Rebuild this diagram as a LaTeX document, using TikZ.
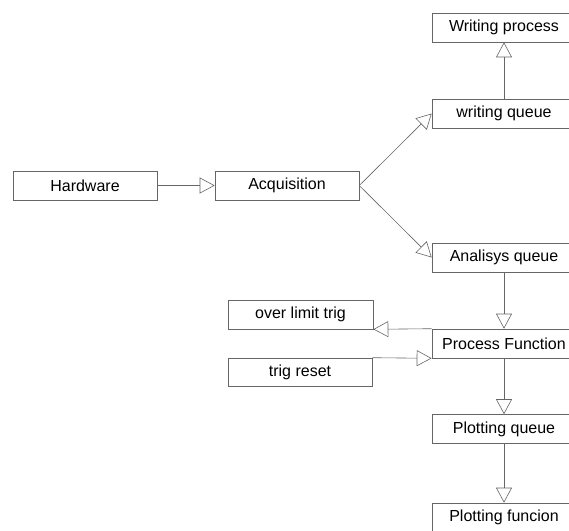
\documentclass[tikz,border=0pt]{standalone}
\usepackage{fontspec}
\setmainfont{Liberation Sans}
\usetikzlibrary{arrows.meta}
\begin{document}
\begin{tikzpicture}[x=1pt,y=-1pt,
  block/.style={draw=black!60, line width=0.6pt, fill=white, minimum width=144pt,
    minimum height=29pt, inner sep=0pt, text=black,
    font=\fontsize{16}{18}\selectfont},
  flow/.style={draw=black!60, line width=0.6pt,
    -{Triangle[open, length=15pt, width=16pt, line width=0.6pt]}}]
\useasboundingbox (0,0) rectangle (569,530);
\clip (0,0) rectangle (569,530);
% blocks
\node[block] (wproc)  at (504,27.5)  {Writing process};
\node[block] (wqueue) at (504,113.5) {writing queue};
\node[block] (hw)     at (85,185.5)  {Hardware};
\node[block] (acq)    at (287,185.5) {Acquisition};
\node[block] (aqueue) at (504,257.5) {Analisys queue};
\node[block, minimum width=145pt] (overl) at (300.5,314.5) {over limit trig};
\node[block] (pfunc)  at (504,343.5) {Process Function};
\node[block, minimum height=28pt] (treset) at (300,372) {trig reset};
\node[block] (pqueue) at (504,429)   {Plotting queue};
\node[block] (pfun)   at (504,517.5) {Plotting funcion};
% connectors
\draw[flow] (wqueue.north) -- (wproc.south);
\draw[flow] (hw.east) -- (acq.east -| acq.west);
\draw[flow] (acq.east) -- (wqueue.west);
\draw[flow] (acq.east) -- (aqueue.west);
\draw[flow] (aqueue.south) -- (pfunc.north);
\draw[flow] (pfunc.north west) -- (overl.south east);
\draw[flow] (treset.north east) -- (pfunc.south west);
\draw[flow] (pfunc.south) -- (pqueue.north);
\draw[flow] (pqueue.south) -- (pfun.north);
\end{tikzpicture}
\end{document}
